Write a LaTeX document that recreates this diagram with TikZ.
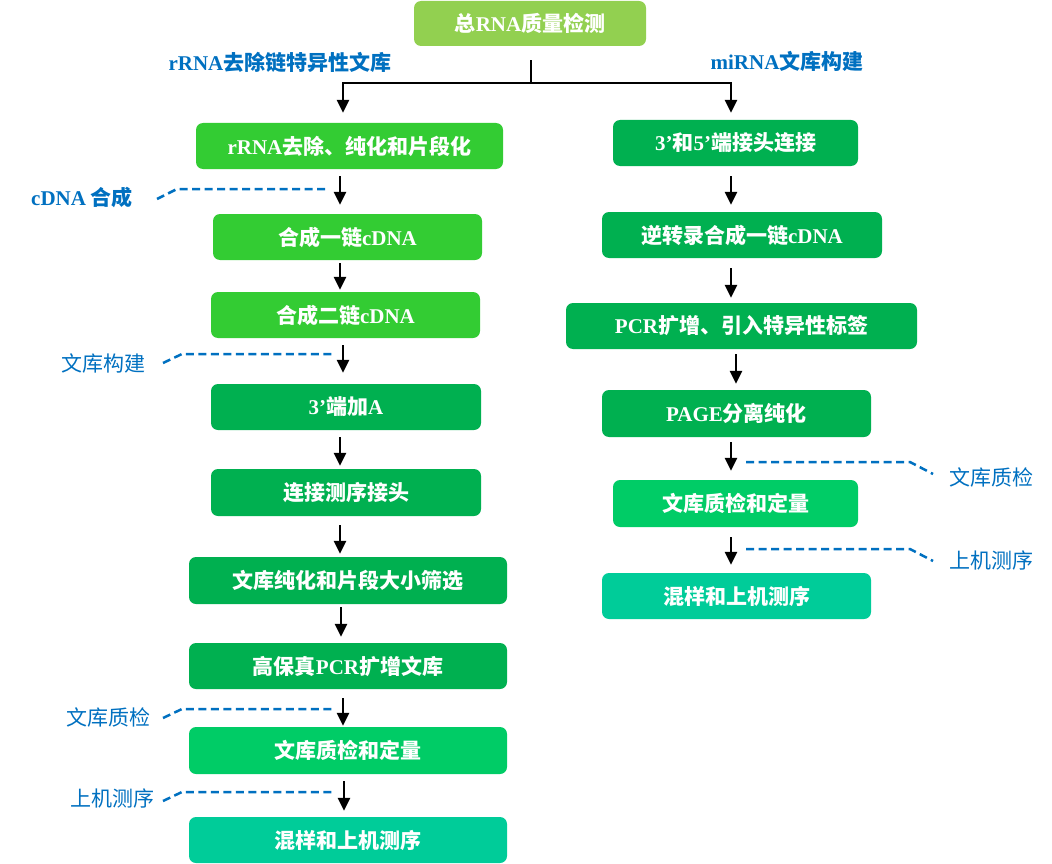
\documentclass[tikz,border=0pt]{standalone}
\usepackage{fontspec}
\setmainfont{Liberation Serif}
\newfontfamily\cjk{Noto Sans CJK SC}
\newcommand\latn[1]{{\rmfamily #1}}
\usetikzlibrary{arrows.meta}
\definecolor{cTop}{HTML}{92D050}
\definecolor{cA}{HTML}{33CC33}
\definecolor{cB}{HTML}{00B050}
\definecolor{cC}{HTML}{00CC66}
\definecolor{cD}{HTML}{00CC99}
\definecolor{cBlue}{HTML}{0070C0}
\tikzset{
  box/.style={rounded corners=7pt, text=white, inner sep=0pt, minimum height=46pt,
    font=\cjk\bfseries\fontsize{21}{25}\selectfont},
  arr/.style={line width=2.8pt, -{Triangle[width=12pt,length=13pt]}},
  ln/.style={line width=2.8pt},
  dsh/.style={draw=cBlue, line width=2.5pt, dash pattern=on 8pt off 4.5pt},
  lab/.style={text=cBlue, inner sep=0pt, font=\cjk\fontsize{21}{25}\selectfont},
  labb/.style={text=cBlue, inner sep=0pt, font=\cjk\bfseries\fontsize{21}{25}\selectfont}
}
\begin{document}
\begin{tikzpicture}[x=1pt,y=-1pt]
\useasboundingbox (0,0) rectangle (1052,864);
% top
\node[box, fill=cTop, minimum width=232pt, minimum height=45pt] (T) at (530,23.5) {总\latn{RNA}质量检测};
\node[labb] (H1) at (280,62) {\latn{rRNA}去除链特异性文库};
\node[labb] (H2) at (787,61) {\latn{miRNA}文库构建};
% left column
\node[box, fill=cA, minimum width=307pt] (L1) at (349.5,146) {\latn{rRNA}去除、纯化和片段化};
\node[box, fill=cA, minimum width=269pt] (L2) at (347.5,237) {合成一链\latn{cDNA}};
\node[box, fill=cA, minimum width=269pt] (L3) at (345.5,315) {合成二链\latn{cDNA}};
\node[box, fill=cB, minimum width=270pt] (L4) at (346,407) {\latn{3’}端加\latn{A}};
\node[box, fill=cB, minimum width=270pt, minimum height=47pt] (L5) at (346,492.5) {连接测序接头};
\node[box, fill=cB, minimum width=318pt, minimum height=47pt] (L6) at (348,580.5) {文库纯化和片段大小筛选};
\node[box, fill=cB, minimum width=318pt] (L7) at (348,666) {高保真\latn{PCR}扩增文库};
\node[box, fill=cC, minimum width=318pt, minimum height=47pt] (L8) at (348,750.5) {文库质检和定量};
\node[box, fill=cD, minimum width=318pt] (L9) at (348,840) {混样和上机测序};
% right column
\node[box, fill=cB, minimum width=245pt] (R1) at (735.5,143) {\latn{3’}和\latn{5’}端接头连接};
\node[box, fill=cB, minimum width=280pt] (R2) at (742,235) {逆转录合成一链\latn{cDNA}};
\node[box, fill=cB, minimum width=351pt] (R3) at (741.5,326) {\latn{PCR}扩增、引入特异性标签};
\node[box, fill=cB, minimum width=269pt, minimum height=47pt] (R4) at (736.5,413.5) {\latn{PAGE}分离纯化};
\node[box, fill=cC, minimum width=245pt, minimum height=47pt] (R5) at (735.5,503.5) {文库质检和定量};
\node[box, fill=cD, minimum width=269pt] (R6) at (736.5,596) {混样和上机测序};
% split connector
\coordinate (J) at (531,83);
\coordinate (cl) at (343,0);
\coordinate (cr) at (731,0);
\draw[ln, shorten <=14pt] (T.south -| J) -- (J);
\draw[arr, shorten >=10pt] (J) -| (L1.north -| cl);
\draw[arr, shorten >=7pt] (J) -| (R1.north -| cr);
% left arrows
\coordinate (x340) at (340,0);
\coordinate (x341) at (341,0);
\coordinate (x343) at (343,0);
\coordinate (x344) at (344,0);
\draw[arr, shorten <=7pt, shorten >=9pt] (L1.south -| x340) -- (L2.north -| x340);
\draw[arr, shorten <=3pt, shorten >=2pt] (L2.south -| x340) -- (L3.north -| x340);
\draw[arr, shorten <=7pt, shorten >=11pt] (L3.south -| x343) -- (L4.north -| x343);
\draw[arr, shorten <=7pt, shorten >=3pt] (L4.south -| x340) -- (L5.north -| x340);
\draw[arr, shorten <=9pt, shorten >=3pt] (L5.south -| x340) -- (L6.north -| x340);
\draw[arr, shorten <=3pt, shorten >=6pt] (L6.south -| x341) -- (L7.north -| x341);
\draw[arr, shorten <=9pt, shorten >=1pt] (L7.south -| x343) -- (L8.north -| x343);
\draw[arr, shorten <=7pt, shorten >=6pt] (L8.south -| x344) -- (L9.north -| x344);
% right arrows
\coordinate (x731) at (731,0);
\coordinate (x736) at (736,0);
\draw[arr, shorten <=10pt, shorten >=7pt] (R1.south -| x731) -- (R2.north -| x731);
\draw[arr, shorten <=10pt, shorten >=5pt] (R2.south -| x731) -- (R3.north -| x731);
\draw[arr, shorten <=5pt, shorten >=6pt] (R3.south -| x736) -- (R4.north -| x736);
\draw[arr, shorten <=5pt, shorten >=9pt] (R4.south -| x731) -- (R5.north -| x731);
\draw[arr, shorten <=10pt, shorten >=8pt] (R5.south -| x731) -- (R6.north -| x731);
% side labels with dashed leaders
\node[labb] (S1) at (82,197) {\latn{cDNA} 合成};
\node[lab] (S2) at (103,363) {文库构建};
\node[lab] (S3) at (108,717) {文库质检};
\node[lab] (S4) at (112,798) {上机测序};
\node[lab] (S5) at (991,477) {文库质检};
\node[lab] (S6) at (991,560) {上机测序};
\draw[dsh] (157,199) -- (177,189) -- (326,189);
\draw[dsh] (163,363) -- (182,354) -- (332,354);
\draw[dsh] (163,718) -- (182,709) -- (332,709);
\draw[dsh] (163,801) -- (182,792) -- (332,792);
\draw[dsh] (746,462) -- (910,462) -- (933,474);
\draw[dsh] (746,549) -- (910,549) -- (933,561);
\end{tikzpicture}
\end{document}
